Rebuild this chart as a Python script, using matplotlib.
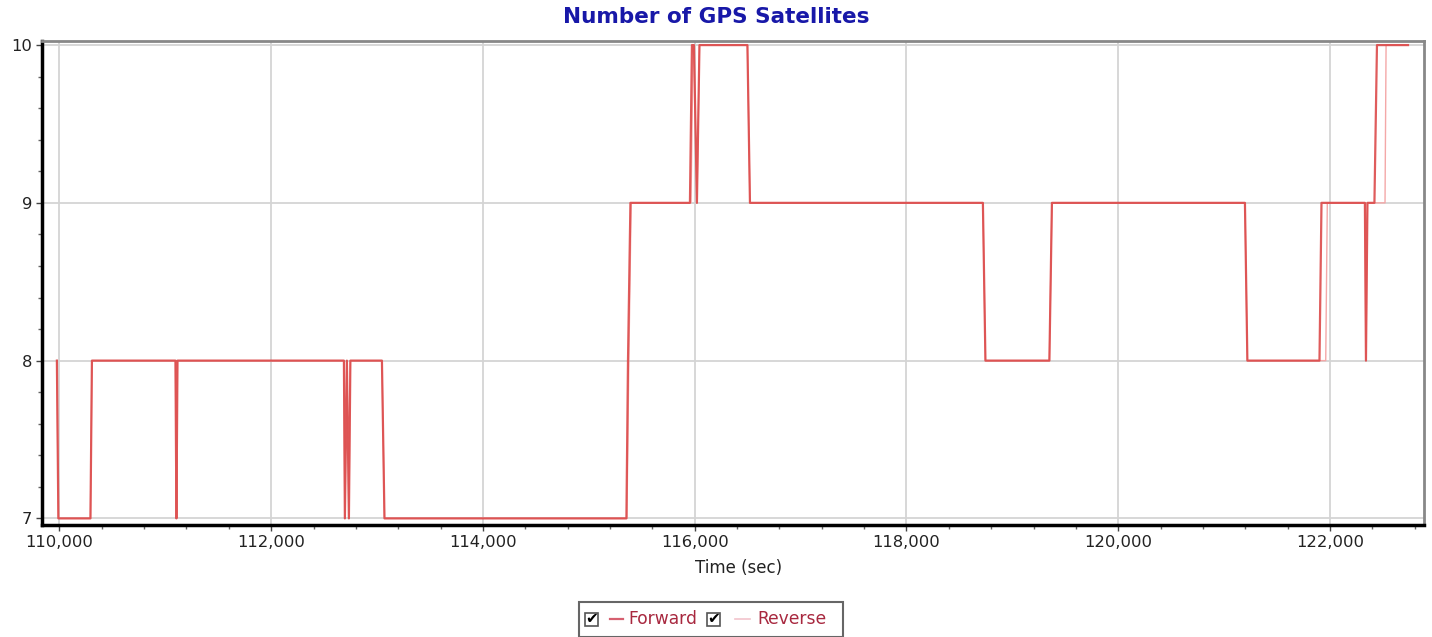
import matplotlib
matplotlib.use("Agg")
import matplotlib.pyplot as plt
from matplotlib.ticker import MultipleLocator, FuncFormatter
from matplotlib.patches import Rectangle
from matplotlib.lines import Line2D

plt.rcParams['font.family'] = ['DejaVu Sans']

# ---- data ----
forward_time = [109976, 109990, 110293, 110307, 111096, 111105, 111115,
                112687, 112696, 112715, 112734, 112748, 113046, 113070,
                115355, 115370, 115393, 115955, 115974, 115993, 116021,
                116045, 116498, 116522, 118722, 118746, 119350, 119374,
                121197, 121220, 121901, 121920, 122330, 122340, 122354,
                122420, 122444, 122737]
forward_sats = [8, 7, 7, 8, 8, 7, 8,
                8, 7, 8, 7, 8, 8, 7,
                7, 8, 9, 9, 10, 10, 9,
                10, 10, 9, 9, 8, 8, 9,
                9, 8, 8, 9, 9, 8, 9,
                9, 10, 10]

reverse_time = [109976, 109990, 110293, 110307, 111096, 111105, 111115,
                112687, 112696, 112715, 112734, 112748, 113046, 113070,
                115360, 115378, 115400, 115965, 115985, 115993, 116021,
                116045, 116498, 116522, 118722, 118746, 119350, 119374,
                121197, 121220, 121960, 121975, 122330, 122340, 122354,
                122520, 122530, 122737]
reverse_sats = [8, 7, 7, 8, 8, 7, 8,
                8, 7, 8, 7, 8, 8, 7,
                7, 8, 9, 9, 10, 10, 9,
                10, 10, 9, 9, 8, 8, 9,
                9, 8, 8, 9, 9, 8, 9,
                9, 10, 10]

x_ticks = [110000, 112000, 114000, 116000, 118000, 120000, 122000]
y_ticks = [7, 8, 9, 10]
title = "Number of GPS Satellites"
x_label = "Time (sec)"
series_names = ["Forward", "Reverse"]

fwd_color = "#dc4a4a"
rev_color = "#f4a8a8"

fig = plt.figure(figsize=(14.32, 6.37), dpi=100)
ax = fig.add_axes([0.0293, 0.1758, 0.9651, 0.7606])

ax.plot(reverse_time, reverse_sats, color=rev_color, lw=1.0, zorder=3)
ax.plot(forward_time, forward_sats, color=fwd_color, lw=1.6, alpha=0.9, zorder=4)

ax.set_xlim(109835, 122888)
ax.set_ylim(6.958, 10.029)
ax.set_xticks(x_ticks)
ax.set_yticks(y_ticks)
ax.xaxis.set_minor_locator(MultipleLocator(400))
ax.yaxis.set_minor_locator(MultipleLocator(0.2))
ax.xaxis.set_major_formatter(FuncFormatter(lambda v, p: f"{int(v):,}"))
ax.yaxis.set_major_formatter(FuncFormatter(lambda v, p: f"{int(v)}"))
ax.grid(True, which="major", color="#d4d4d4", lw=1.3, zorder=0)
ax.tick_params(which="major", length=4, width=1, color="#444444",
               labelsize=11.8, labelcolor="#222222", pad=3)
ax.tick_params(which="minor", length=3, width=1, color="#666666")

for s in ("left", "bottom"):
    ax.spines[s].set_color("black")
    ax.spines[s].set_linewidth(2.5)
for s in ("top", "right"):
    ax.spines[s].set_color("#888888")
    ax.spines[s].set_linewidth(2.0)

fig.text(0.5, 0.973, title, ha="center", va="center", fontsize=15.5,
         fontweight="bold", color="#1818a8")
fig.text(0.5155, 0.109, x_label, ha="center", va="center", fontsize=12,
         color="#222222")

# ---- legend (checkbox style) ----
W, H = 1432, 637
def fx(px):
    return px / W
def fy(py):
    return 1 - py / H

fig.patches.append(Rectangle((fx(579), fy(637)), fx(843) - fx(579), fy(602) - fy(637),
                             transform=fig.transFigure, fill=False,
                             edgecolor="#666666", lw=1.5))
for bx in (585, 707):
    fig.patches.append(Rectangle((fx(bx), fy(626)), fx(13), 13 / H,
                                 transform=fig.transFigure, facecolor="white",
                                 edgecolor="#555555", lw=1.2))
    fig.text(fx(bx + 7), fy(619), "\u2714", ha="center", va="center",
             fontsize=11, color="black")
fig.lines.append(Line2D([fx(610), fx(623)], [fy(619), fy(619)],
                        transform=fig.transFigure, color="#d66070", lw=1.6))
fig.lines.append(Line2D([fx(735), fx(750)], [fy(619), fy(619)],
                        transform=fig.transFigure, color="#f2c4cc", lw=1.2))
fig.text(fx(628), fy(619), series_names[0], ha="left", va="center",
         fontsize=12.3, color="#a8283f")
fig.text(fx(757), fy(619), series_names[1], ha="left", va="center",
         fontsize=12.3, color="#a8283f")

fig.savefig("out.png", dpi=100)
